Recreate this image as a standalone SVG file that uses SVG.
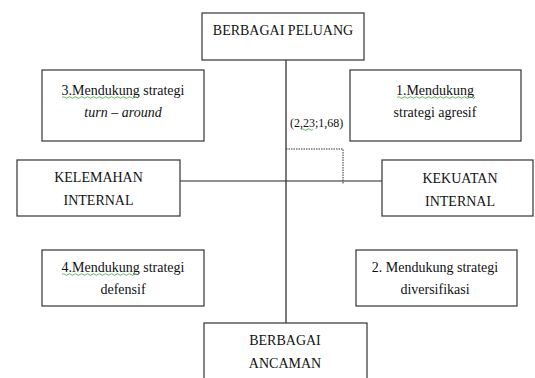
<svg xmlns="http://www.w3.org/2000/svg" width="535" height="378" viewBox="0 0 535 378">
<style>
.box{fill:#fff;stroke:#333;stroke-width:1.2}
.t{font-family:"Liberation Serif","Times New Roman",serif;font-size:14px;fill:#111;text-anchor:middle}
.it{font-style:italic}
.ln{stroke:#222;stroke-width:1.2;fill:none}
.dot{stroke:#333;stroke-width:1;stroke-dasharray:1.5 1;fill:none}
.sq{stroke:#3a3;stroke-width:0.8;fill:none}
</style>
<rect width="535" height="378" fill="#fff"/>
<g id="connectors">
<line class="ln" x1="286" y1="60" x2="286" y2="323"/>
<line class="ln" x1="180" y1="181" x2="382" y2="181"/>
<polyline class="dot" points="286,149 343,149 343,184"/>
</g>
<g id="peluang">
<rect class="box" x="202" y="13" width="162" height="47"/>
<text class="t" x="283" y="35">BERBAGAI PELUANG</text>
</g>
<g id="kuadran3">
<rect class="box" x="42" y="70" width="162" height="71"/>
<text class="t" x="123" y="95">3.Mendukung strategi</text>
<text class="t it" x="123" y="117">turn – around</text>
<path class="sq" d="M62 97.5 q1.5 -1.5 3 0 t3 0 t3 0 t3 0 t3 0 t3 0 t3 0 t3 0 t3 0 t3 0 t3 0 t3 0 t3 0 t3 0 t3 0 t3 0 t3 0 t3 0 t3 0 t3 0 t3 0 t3 0 t3 0 t3 0 t3 0"/>
</g>
<g id="kuadran1">
<rect class="box" x="350" y="70" width="171" height="71"/>
<text class="t" x="435" y="95">1.Mendukung</text>
<text class="t" x="435" y="117">strategi agresif</text>
<path class="sq" d="M397 97.5 q1.5 -1.5 3 0 t3 0 t3 0 t3 0 t3 0 t3 0 t3 0 t3 0 t3 0 t3 0 t3 0 t3 0 t3 0 t3 0 t3 0 t3 0 t3 0 t3 0 t3 0 t3 0 t3 0 t3 0 t3 0 t3 0 t3 0 t3 0"/>
</g>
<g id="titik">
<text x="290" y="127" style="font-family:'Liberation Serif','Times New Roman',serif;font-size:12px;fill:#111">(2,23;1,68)</text>
<path class="sq" d="M301 129.5 q1.5 -1.5 3 0 t3 0 t3 0 t3 0"/>
</g>
<g id="kelemahan">
<rect class="box" x="17" y="160" width="163" height="56"/>
<text class="t" x="98.5" y="182">KELEMAHAN</text>
<text class="t" x="98.5" y="205">INTERNAL</text>
</g>
<g id="kekuatan">
<rect class="box" x="382" y="160" width="151" height="56"/>
<text class="t" x="460" y="183">KEKUATAN</text>
<text class="t" x="460" y="206">INTERNAL</text>
</g>
<g id="kuadran4">
<rect class="box" x="42" y="250" width="162" height="56"/>
<text class="t" x="123" y="272">4.Mendukung strategi</text>
<text class="t" x="123" y="294">defensif</text>
<path class="sq" d="M62 274.5 q1.5 -1.5 3 0 t3 0 t3 0 t3 0 t3 0 t3 0 t3 0 t3 0 t3 0 t3 0 t3 0 t3 0 t3 0 t3 0 t3 0 t3 0 t3 0 t3 0 t3 0 t3 0 t3 0 t3 0 t3 0 t3 0 t3 0"/>
</g>
<g id="kuadran2">
<rect class="box" x="356" y="250" width="161" height="56"/>
<text class="t" x="435" y="272">2. Mendukung strategi</text>
<text class="t" x="435" y="294">diversifikasi</text>
</g>
<g id="ancaman">
<rect class="box" x="204" y="323" width="163" height="70"/>
<text class="t" x="285" y="345">BERBAGAI</text>
<text class="t" x="285" y="368">ANCAMAN</text>
</g>
</svg>
